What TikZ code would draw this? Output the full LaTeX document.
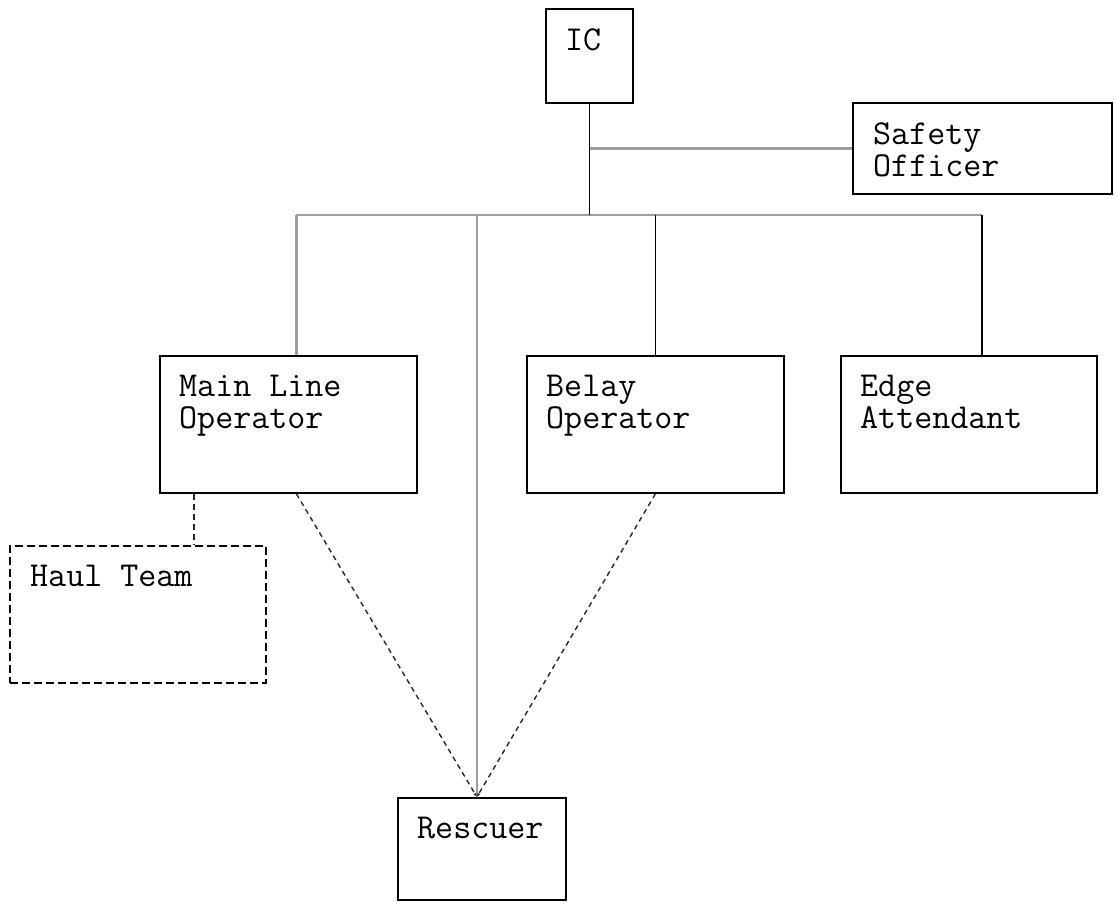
\documentclass[tikz,border=0pt]{standalone}
\usetikzlibrary{calc}
\usetikzlibrary{positioning}
\usetikzlibrary{arrows.meta}

\tikzset{
  box/.style={draw,line width=1.8pt,anchor=north west,inner sep=0pt},
  boxtext/.style={inner sep=0pt,align=left,font=\ttfamily\fontsize{35}{32}\selectfont},
  greyline/.style={draw=black!38,line width=2.6pt},
  blackline/.style={draw=black,line width=1.8pt},
  dashline/.style={draw=black!85,line width=1.4pt,dash pattern=on 5pt off 4pt}
}

\begin{document}
\begin{tikzpicture}[x=1pt,y=-1pt]
\useasboundingbox (0,0) rectangle (1116,902);

% boxes
\node[box,minimum width=87pt,minimum height=94pt] (ic) at (545,8) {};
\node[box,minimum width=259pt,minimum height=91pt] (so) at (852,102) {};
\node[box,minimum width=257pt,minimum height=137pt] (ml) at (159,355) {};
\node[box,minimum width=257pt,minimum height=137pt] (bl) at (526,355) {};
\node[box,minimum width=256pt,minimum height=137pt] (ea) at (840,355) {};
\node[box,dash pattern=on 8pt off 4pt,minimum width=256pt,minimum height=137pt] (ht) at (9,545) {};
\node[box,minimum width=168pt,minimum height=102pt] (rs) at (397,797) {};

% texts
\node[boxtext,below right=20pt and 20pt of ic.north west] (ic text) {IC};
\node[boxtext,below right=20pt and 21pt of so.north west] (so text) {Safety\\Officer};
\node[boxtext,below right=20pt and 20pt of ml.north west] (ml text) {Main Line\\Operator};
\node[boxtext,below right=20pt and 20pt of bl.north west] (bl text) {Belay\\Operator};
\node[boxtext,below right=20pt and 20pt of ea.north west] (ea text) {Edge\\Attendant};
\node[boxtext,below right=20pt and 21pt of ht.north west] (ht text) {Haul Team};
\node[boxtext,below right=20pt and 20pt of rs.north west] (rs text) {Rescuer};

% connectors
\coordinate (bus y) at (0,215);
\coordinate (bus) at (ic.south |- bus y);
\coordinate (ml top) at ([xshift=8pt]ml.north);
\coordinate (ea top) at ([xshift=13pt]ea.north);
\coordinate (rs top) at ([xshift=-5pt]rs.north);
\coordinate (ht top) at ([xshift=56pt]ht.north);

\draw[greyline] (ml top |- bus) -- (ea top |- bus);
\draw[greyline] (ic.south |- so.west) -- (so.west);
\draw[blackline] (ic.south) -- (bus);
\draw[greyline] (ml top |- bus) -- (ml top);
\draw[blackline] (bl.north |- bus) -- (bl.north);
\draw[blackline] (ea top |- bus) -- (ea top);
\draw[greyline] (rs top |- bus) -- (rs top);

\draw[dashline,-{Latex[length=4pt,width=3pt]}] ([xshift=8pt]ml.south) -- (rs top);
\draw[dashline,-{Latex[length=4pt,width=3pt]}] (bl.south) -- (rs top);
\draw[dashline,dash pattern=on 6pt off 4pt] (ht top |- ml.south) -- (ht top);
\end{tikzpicture}
\end{document}
